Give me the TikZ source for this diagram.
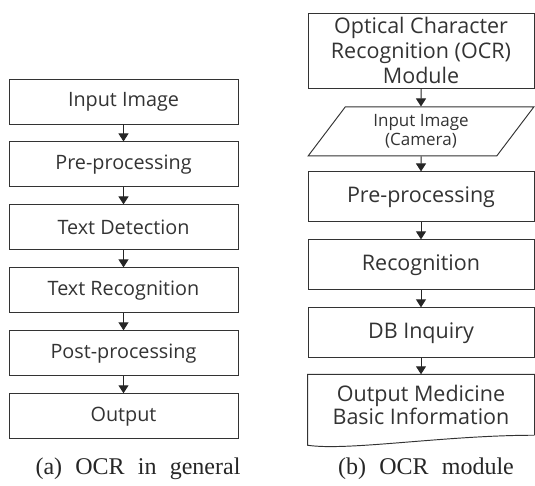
\documentclass[tikz,border=0pt]{standalone}
\usepackage{fontspec}
\setmainfont{Liberation Serif}
\newfontfamily\boxfont{Open Sans}
\usetikzlibrary{positioning,shapes.geometric,arrows.meta}

\newcommand\capfont{\fontsize{24}{28}\selectfont\spaceskip=0.55em\relax}
\tikzstyle{stepbox} = [rectangle, minimum width=229pt, minimum height=45pt, text centered, draw=black!80, line width=0.95pt, text=black!80, font=\boxfont\fontsize{19.8}{22}\selectfont]
\tikzstyle{modbox} = [stepbox, minimum width=226pt, minimum height=50pt, font=\boxfont\fontsize{21.5}{25}\selectfont]
\tikzstyle{iobox} = [trapezium, trapezium left angle=55, trapezium right angle=125, trapezium stretches=true, minimum width=226pt, minimum height=49pt, align=center, draw=black!80, line width=0.95pt, text=black!80, inner sep=0pt, font=\boxfont\fontsize{17}{18.5}\selectfont]
\tikzstyle{arrow} = [draw=black!85, line width=1pt, -{Triangle[width=10pt,length=8pt]}]
\tikzstyle{caption} = [font=\capfont, text=black!85]
\def\gap{17pt}

\begin{document}
\begin{tikzpicture}[x=1pt, y=-1pt]
\useasboundingbox (0,0) rectangle (535,485);

% (a) general OCR steps
\node (in1) [stepbox] at (123.5,101.5) {Input Image};
\node (pre1) [stepbox, below=\gap of in1] {Pre-processing};
\node (det1) [stepbox, below=\gap of pre1] {Text Detection};
\node (rec1) [stepbox, below=\gap of det1] {Text Recognition};
\node (post1) [stepbox, below=\gap of rec1] {Post-processing};
\node (out1) [stepbox, below=\gap of post1] {Output};
\draw [arrow] (in1) -- (pre1);
\draw [arrow] (pre1) -- (det1);
\draw [arrow] (det1) -- (rec1);
\draw [arrow] (rec1) -- (post1);
\draw [arrow] (post1) -- (out1);

% (b) OCR module of the app
\node (mod) [modbox, minimum height=75pt, align=center] at (421,50.5) {Optical Character\\Recognition (OCR)\\Module};
\node (cam) [iobox, below=18pt of mod] {Input Image\\(Camera)};
\node (pre2) [modbox, below=15pt of cam] {Pre-processing};
\node (rec2) [modbox, below=\gap of pre2] {Recognition};
\node (db) [modbox, below=\gap of rec2] {DB Inquiry};
\node (info) [modbox, draw=none, minimum height=60pt, align=center, font=\boxfont\fontsize{21.5}{21}\selectfont, below=16pt of db] {Output Medicine\\Basic Information};
\draw [draw=black!80, line width=0.95pt] (info.south east) -- (info.north east) -- (info.north west) -- ([yshift=-10pt]info.south west) .. controls +(40,6) and +(-90,0) .. (info.south east);
\draw [arrow] (mod) -- (cam);
\draw [arrow] (cam) -- (pre2);
\draw [arrow] (pre2) -- (rec2);
\draw [arrow] (rec2) -- (db);
\draw [arrow] (db) -- (info);

% captions
\node (capa) [caption] at (138,469) {(a) OCR in general};
\node (capb) [caption] at (426,469) {(b) OCR module};
\end{tikzpicture}
\end{document}
